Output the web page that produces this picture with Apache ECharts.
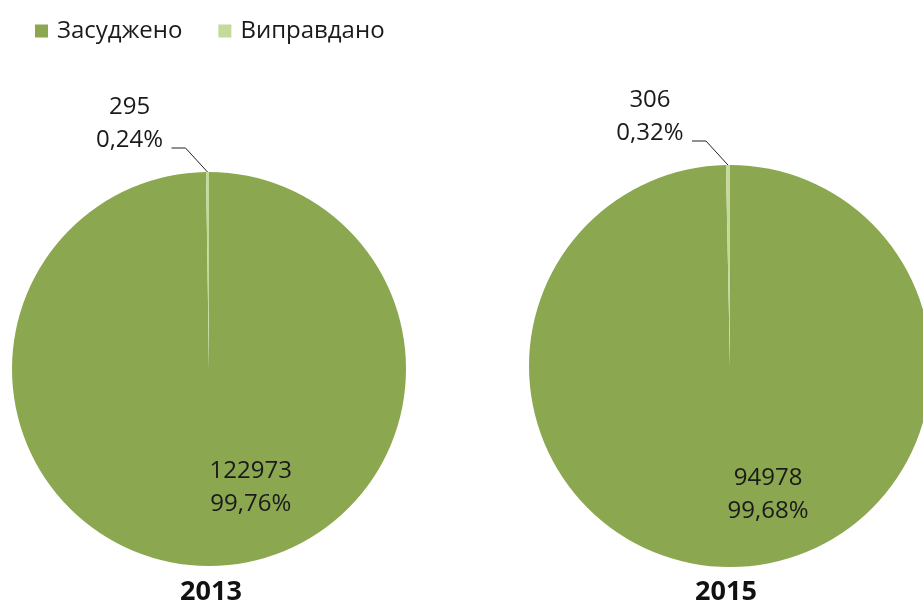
<!DOCTYPE html>
<html>
<head>
<meta charset="utf-8">
<script src="https://cdn.jsdelivr.net/npm/echarts@6/dist/echarts.min.js"></script>
<style>
html,body{margin:0;padding:0;background:#fff;}
#chart{width:923px;height:604px;}
</style>
</head>
<body>
<div id="chart"></div>
<script>
// ---- data ----
const categories = ['Засуджено', 'Виправдано'];
const years = ['2013', '2015'];
const values2013 = [122973, 295];
const values2015 = [94978, 306];

// ---- styling / layout ----
const FONT = 'Open Sans';
const COLORS = ['#8ba750', '#c4d99a'];
const pies = [
  { center: [209, 369], radius: 197, inner: [41, 17], values: values2013 },
  { center: [730, 366], radius: 201, inner: [37, 25], values: values2015 }
];

function fmt(p) {
  return p.value + '\n' + p.percent.toFixed(2).replace('.', ',') + '%';
}

function makeSeries(cfg, idx) {
  const total = cfg.values.reduce((a, b) => a + b, 0);
  return {
    type: 'pie',
    name: years[idx],
    center: cfg.center,
    radius: cfg.radius,
    startAngle: 90,
    clockwise: true,
    avoidLabelOverlap: false,
    animation: false,
    silent: true,
    itemStyle: { borderWidth: 0 },
    label: {
      fontFamily: FONT,
      fontSize: 24,
      lineHeight: 33,
      color: '#1a1a1a',
      formatter: fmt
    },
    labelLine: { show: true, lineStyle: { color: '#222', width: 1 }, length: 20, length2: 12 },
    labelLayout: function (p) {
      if (p.dataIndex === 0) {
        return { dx: cfg.inner[0], dy: cfg.inner[1] };
      }
      // small slice: start point on the outer edge at its mid angle
      const frac = cfg.values[1] / total;
      const midDeg = 90 + 360 * frac / 2;
      const a = midDeg * Math.PI / 180;
      const sx = cfg.center[0] + cfg.radius * Math.cos(a);
      const sy = cfg.center[1] - cfg.radius * Math.sin(a);
      const ex = sx - 36, ey = sy - 24;
      return {
        x: ex - 42,
        y: ey + 9,
        align: 'center',
        verticalAlign: 'bottom',
        labelLinePoints: [[sx, sy], [sx - 22, ey], [ex, ey]]
      };
    },
    data: categories.map((c, i) => ({
      name: c,
      value: cfg.values[i],
      itemStyle: { color: COLORS[i] },
      label: { position: i === 0 ? 'inside' : 'outside' },
      labelLine: { show: i !== 0 }
    }))
  };
}

const chart = echarts.init(document.getElementById('chart'), null, { renderer: 'canvas' });
chart.setOption({
  backgroundColor: '#ffffff',
  color: COLORS,
  legend: {
    data: categories,
    left: 35,
    top: 19,
    padding: 0,
    icon: 'rect',
    itemWidth: 13,
    itemHeight: 13,
    itemGap: 36,
    selectedMode: false,
    textStyle: { fontFamily: FONT, fontSize: 24, color: '#1a1a1a', padding: [0, 0, 0, 4] }
  },
  title: years.map((y, i) => ({
    text: y,
    left: i === 0 ? 211 : 726,
    top: 579,
    padding: 0,
    textAlign: 'center',
    textStyle: { fontFamily: FONT, fontSize: 27, fontWeight: 'bold', color: '#111' }
  })),
  series: pies.map(makeSeries)
});
</script>
</body>
</html>
